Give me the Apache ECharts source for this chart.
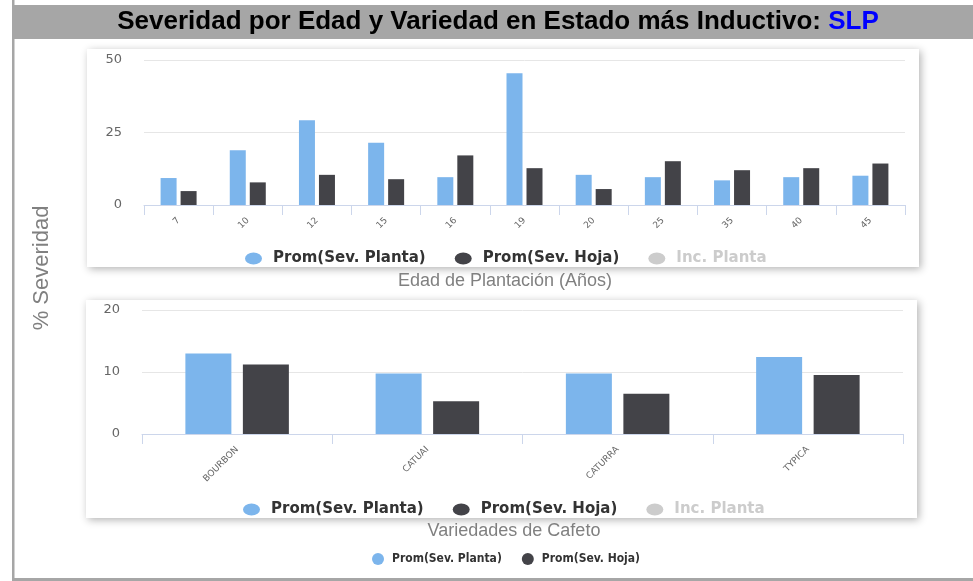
<!DOCTYPE html>
<html>
<head>
<meta charset="utf-8">
<script src="https://cdn.jsdelivr.net/npm/echarts@6/dist/echarts.min.js"></script>
<style>
html,body{margin:0;padding:0;background:#fff;}
#chart{width:973px;height:581px;}
</style>
</head>
<body>
<div id="chart"></div>
<script>
// ---- data ----
const edades = ['7','10','12','15','16','19','20','25','35','40','45'];
const plantaEdad = [9.3, 18.9, 29.2, 21.5, 9.6, 45.4, 10.4, 9.6, 8.5, 9.6, 10.1];
const hojaEdad   = [4.8, 7.8, 10.4, 8.9, 17.1, 12.7, 5.5, 15.1, 12.0, 12.7, 14.3];
const variedades = ['BOURBON','CATUAI','CATURRA','TYPICA'];
const plantaVar = [13.0, 9.75, 9.75, 12.4];
const hojaVar   = [11.2, 5.3, 6.5, 9.5];
const incPlanta = [];
const nPlanta = 'Prom(Sev. Planta)';
const nHoja = 'Prom(Sev. Hoja)';
const nInc = 'Inc. Planta';
const titleMain = 'Severidad por Edad y Variedad en Estado más Inductivo: ';
const titleState = 'SLP';
const xTitleTop = 'Edad de Plantación (Años)';
const xTitleBottom = 'Variedades de Cafeto';
const yTitle = '% Severidad';

const cBlue = '#7cb5ec', cDark = '#434348';
const ellipse = 'path://M50,0A50,50,0,1,1,50,100A50,50,0,1,1,50,0Z';

const chart = echarts.init(document.getElementById('chart'), null, {renderer:'canvas'});

function xAx(gi, data) {
  return {
    type:'category', gridIndex:gi, data:data,
    axisLine:{show:true, lineStyle:{color:'#ccd6eb', width:1}},
    axisTick:{show:true, alignWithLabel:false, interval:0, length:10, lineStyle:{color:'#ccd6eb'}},
    axisLabel:{interval:0, rotate:45, fontSize:9, color:'#666', margin:14, fontFamily:'DejaVu Sans'}
  };
}
function yAx(gi, max, interval) {
  return {
    type:'value', gridIndex:gi, min:0, max:max, interval:interval,
    axisLine:{show:false}, axisTick:{show:false},
    splitLine:{lineStyle:{color:'#e6e6e6'}},
    axisLabel:{fontSize:13, color:'#666', margin:22, fontFamily:'DejaVu Sans'}
  };
}
function bigLegend(left, top) {
  return {
    data:[nPlanta, nHoja, nInc], left:left, top:top,
    icon: ellipse, symbolKeepAspect:false, itemWidth:17, itemHeight:12, itemGap:29,
    selected:{[nInc]:false}, inactiveColor:'#cccccc',
    textStyle:{fontFamily:'DejaVu Sans', fontWeight:'bold', fontSize:15, color:'#333', padding:[0,0,0,6]}
  };
}

const option = {
  animation:false,
  backgroundColor:'#ffffff',
  grid:[
    {left:144, width:761, top:60, height:145},
    {left:142, width:761, top:310, height:124}
  ],
  xAxis:[xAx(0, edades), xAx(1, variedades)],
  yAxis:[yAx(0, 50, 25), yAx(1, 20, 10)],
  legend:[
    bigLegend(240, 246),
    bigLegend(238, 497),
    {
      data:[nPlanta, nHoja], left:367, top:548,
      icon:'circle', itemWidth:12, itemHeight:12, itemGap:20,
      textStyle:{fontFamily:'DejaVu Sans Condensed, Liberation Sans', fontWeight:'bold', fontSize:12, color:'#333', padding:[0,0,0,3]}
    }
  ],
  graphic:[
    {type:'rect', z:-20, shape:{x:12, y:0, width:2.5, height:581}, style:{fill:'#a6a6a6'}},
    {type:'rect', z:-20, shape:{x:12, y:578, width:961, height:3}, style:{fill:'#a6a6a6'}},
    {type:'rect', z:-20, shape:{x:14, y:5, width:959, height:34}, style:{fill:'#a6a6a6'}},
    {type:'rect', z:-10, shape:{x:87, y:49, width:832, height:218},
      style:{fill:'#fff', shadowBlur:8, shadowOffsetX:2, shadowOffsetY:2, shadowColor:'rgba(0,0,0,0.3)'}},
    {type:'rect', z:-10, shape:{x:86, y:300, width:831, height:218},
      style:{fill:'#fff', shadowBlur:8, shadowOffsetX:2, shadowOffsetY:2, shadowColor:'rgba(0,0,0,0.3)'}},
    {type:'text', z:50, x:498, y:22,
      style:{text:'{a|'+titleMain+'}{b|'+titleState+'}', textAlign:'center', textVerticalAlign:'middle',
        rich:{a:{fontFamily:'Liberation Sans', fontWeight:'bold', fontSize:26, fill:'#000', color:'#000'},
              b:{fontFamily:'Liberation Sans', fontWeight:'bold', fontSize:26, fill:'#0000ff', color:'#0000ff'}}}},
    {type:'text', z:50, x:505, y:281,
      style:{text:xTitleTop, textAlign:'center', textVerticalAlign:'middle', font:'18px "Liberation Sans"', fill:'#808080'}},
    {type:'text', z:50, x:514, y:531,
      style:{text:xTitleBottom, textAlign:'center', textVerticalAlign:'middle', font:'18px "Liberation Sans"', fill:'#808080'}},
    {type:'text', z:50, x:42, y:268, rotation:Math.PI/2,
      style:{text:yTitle, textAlign:'center', textVerticalAlign:'middle', font:'22px "Liberation Sans"', fill:'#808080'}}
  ],
  series:[
    {name:nPlanta, type:'bar', xAxisIndex:0, yAxisIndex:0, data:plantaEdad, barWidth:16, barGap:'25%', itemStyle:{color:cBlue}},
    {name:nHoja, type:'bar', xAxisIndex:0, yAxisIndex:0, data:hojaEdad, barWidth:16, barGap:'25%', itemStyle:{color:cDark}},
    {name:nInc, type:'bar', xAxisIndex:0, yAxisIndex:0, data:incPlanta, itemStyle:{color:'#90ed7d'}},
    {name:nPlanta, type:'bar', xAxisIndex:1, yAxisIndex:1, data:plantaVar, barWidth:46, barGap:'25%', itemStyle:{color:cBlue}},
    {name:nHoja, type:'bar', xAxisIndex:1, yAxisIndex:1, data:hojaVar, barWidth:46, barGap:'25%', itemStyle:{color:cDark}},
    {name:nInc, type:'bar', xAxisIndex:1, yAxisIndex:1, data:incPlanta, itemStyle:{color:'#90ed7d'}}
  ]
};
chart.setOption(option);
</script>
</body>
</html>
